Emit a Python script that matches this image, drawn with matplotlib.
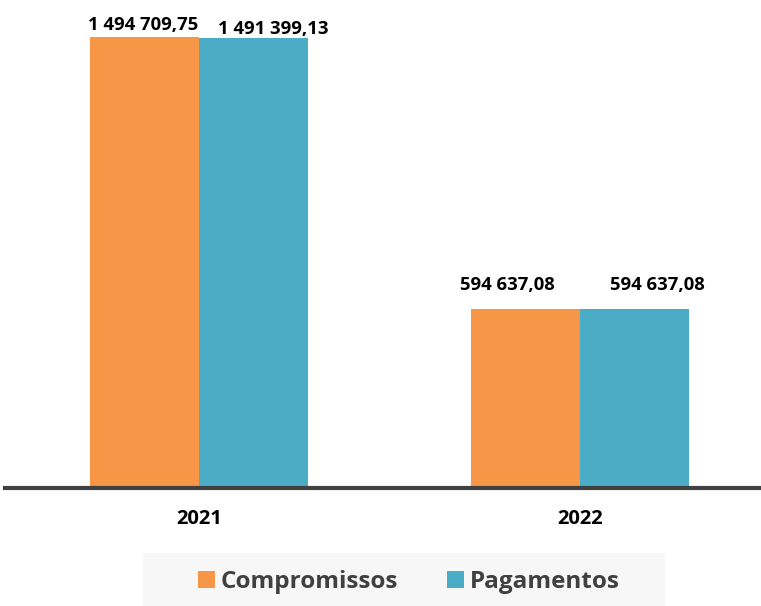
import matplotlib
matplotlib.use("Agg")
import matplotlib.pyplot as plt
from matplotlib.patches import Rectangle, Patch

years = ["2021", "2022"]
compromissos = [1494709.75, 594637.08]
pagamentos = [1491399.13, 594637.08]
labels_comp = ["1 494 709,75", "594 637,08"]
labels_pag = ["1 491 399,13", "594 637,08"]
series_names = ["Compromissos", "Pagamentos"]

C_ORANGE = "#F79646"
C_TEAL = "#4BACC6"

W, H = 761, 606
fig = plt.figure(figsize=(W / 100, H / 100), dpi=100)
plt.rcParams['font.family'] = ['Open Sans', 'DejaVu Sans']

# axes placement in pixels
left_px, right_px = 5, 761
top_px, base_px = 20, 488
ax = fig.add_axes([left_px / W, 1 - base_px / H, (right_px - left_px) / W, (base_px - top_px) / H])

x = [0, 1]
bw = 109 / 381
ax.bar([v - bw / 2 for v in x], compromissos, width=bw, color=C_ORANGE, zorder=2)
ax.bar([v + bw / 2 for v in x], pagamentos, width=bw, color=C_TEAL, zorder=2)

xmin = -(199 - 5) / 381
ax.set_xlim(xmin, xmin + 756 / 381)
ax.set_ylim(0, 1494709.75 * (base_px - top_px) / (base_px - 37))

for s in ["top", "right", "left"]:
    ax.spines[s].set_visible(False)
ax.spines["bottom"].set_color("#404040")
ax.spines["bottom"].set_linewidth(3)
ax.set_yticks([])
ax.set_xticks(x)
ax.set_xticklabels(years, fontsize=14.5, fontweight="bold", color="black")
ax.tick_params(axis="x", length=0, pad=15)

# value labels
offs_c = [(-1.5, 12), (-18, 24)]
offs_p = [(19.5, 9), (22.5, 24)]
for i in range(2):
    ax.annotate(labels_comp[i], (x[i] - bw / 2, compromissos[i]), xytext=offs_c[i],
                textcoords="offset pixels", ha="center", va="center",
                fontsize=13.3, fontweight="bold", color="black")
    ax.annotate(labels_pag[i], (x[i] + bw / 2, pagamentos[i]), xytext=offs_p[i],
                textcoords="offset pixels", ha="center", va="center",
                fontsize=13.3, fontweight="bold", color="black")

# legend box
fig.patches.append(Rectangle((143 / W, 0), (665 - 143) / W, (606 - 553) / H,
                             transform=fig.transFigure, facecolor="#F7F7F7",
                             edgecolor="none", zorder=0))
handles = [Patch(facecolor=C_ORANGE), Patch(facecolor=C_TEAL)]
leg = fig.legend(handles, series_names, loc="center", bbox_to_anchor=(409 / W, 1 - 582 / H),
                 ncol=2, frameon=False, prop={"size": 17.5, "weight": "bold"},
                 handlelength=0.7, handleheight=0.7, handletextpad=0.25, columnspacing=2.0)
for t in leg.get_texts():
    t.set_color("#404040")

fig.savefig("out.png", dpi=100)
